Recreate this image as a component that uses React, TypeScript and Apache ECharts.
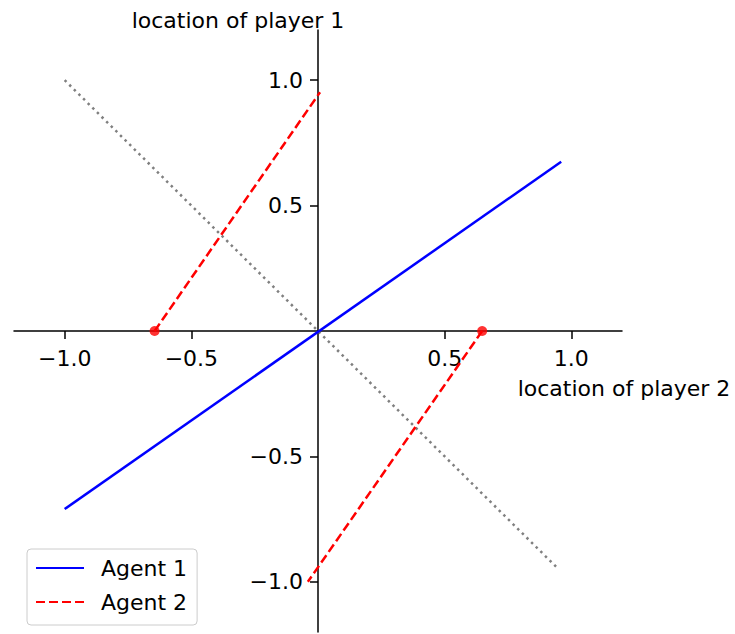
import React, { useEffect, useRef } from "react";
import * as echarts from "echarts";

const agent1X = [-1.0, 0.96];
const agent1Y = [-0.71, 0.675];
const agent2aX = [-0.645, 0.008];
const agent2aY = [0, 0.952];
const agent2bX = [0.648, -0.04];
const agent2bY = [0, -1.0];
const diagX = [-1.0, 0.945];
const diagY = [1.0, -0.945];
const dotsX = [-0.645, 0.648];
const dotsY = [0, 0];
const tickValues = [-1.0, -0.5, 0.5, 1.0];
const axisMin = -1.2;
const axisMax = 1.2;

const zip = (xs: number[], ys: number[]) => xs.map((x, i) => [x, ys[i]]);
const fmt = (v: number) => v.toFixed(1).replace("-", "\u2212");

const W = 735;
const H = 634;
const GRID = { left: 14, right: 113, top: 30, bottom: 2 };
const FS = 22;

export default function App() {
  const ref = useRef<HTMLDivElement>(null);
  useEffect(() => {
    if (!ref.current) return;
    const chart = echarts.init(ref.current, null, { renderer: "svg" });
    const font = "DejaVu Sans";
    const plotW = W - GRID.left - GRID.right;
    const plotH = H - GRID.top - GRID.bottom;
    const frac = (0 - axisMin) / (axisMax - axisMin);
    const xOffset = -plotH * frac; // move x axis up to y=0
    const yOffset = -plotW * frac; // move y axis right to x=0
    const axisCommon = {
      type: "value",
      min: axisMin,
      max: axisMax,
      splitLine: { show: false },
      axisLine: { show: true, onZero: false, lineStyle: { color: "#000", width: 1.5 } },
      axisTick: { show: true, inside: false, length: 8, customValues: tickValues, lineStyle: { color: "#000", width: 1.5 } },
      axisLabel: { show: true, customValues: tickValues, formatter: fmt, color: "#000", fontFamily: font, fontSize: FS },
    };
    chart.setOption({
      animation: false,
      backgroundColor: "#fff",
      grid: { ...GRID, containLabel: false, outerBoundsMode: "none" },
      xAxis: {
        ...axisCommon,
        position: "bottom",
        offset: xOffset,
        axisLabel: { ...axisCommon.axisLabel, margin: 16 },
        name: "location of player 2",
        nameLocation: "end",
        nameGap: 2,
        nameTextStyle: { color: "#000", fontFamily: font, fontSize: FS, align: "center", verticalAlign: "top", padding: [46, 0, 0, 0] },
      },
      yAxis: {
        ...axisCommon,
        position: "left",
        offset: yOffset,
        axisLabel: { ...axisCommon.axisLabel, margin: 15 },
        name: "location of player 1",
        nameLocation: "end",
        nameGap: 10,
        nameTextStyle: { color: "#000", fontFamily: font, fontSize: FS, align: "center", verticalAlign: "middle", padding: [0, 160, 0, 0] },
      },
      legend: {
        data: ["Agent 1", "Agent 2"],
        orient: "vertical",
        left: 27,
        top: 549,
        padding: [8, 10, 12, 8],
        itemWidth: 48,
        itemHeight: 14,
        itemGap: 12,
        borderColor: "#cccccc",
        borderWidth: 1,
        borderRadius: 4,
        itemStyle: { opacity: 0 },
        textStyle: { color: "#000", fontFamily: font, fontSize: FS, lineHeight: 22, padding: [0, 0, 0, 12] },
      },
      series: [
        {
          name: "diag",
          type: "line",
          data: zip(diagX, diagY),
          symbol: "none",
          lineStyle: { color: "#808080", width: 2.5, type: [2.5, 4] },
          silent: true,
        },
        {
          name: "Agent 1",
          type: "line",
          data: zip(agent1X, agent1Y),
          symbol: "none",
          color: "#0000ff",
          lineStyle: { color: "#0000ff", width: 2.5 },
        },
        {
          name: "Agent 2",
          type: "line",
          data: zip(agent2aX, agent2aY),
          symbol: "none",
          color: "#ff0000",
          lineStyle: { color: "#ff0000", width: 2.5, type: [9, 4] },
        },
        {
          name: "Agent 2",
          type: "line",
          data: zip(agent2bX, agent2bY),
          symbol: "none",
          color: "#ff0000",
          lineStyle: { color: "#ff0000", width: 2.5, type: [9, 4] },
        },
        {
          name: "dots",
          type: "scatter",
          data: zip(dotsX, dotsY),
          symbol: "circle",
          symbolSize: 10,
          itemStyle: { color: "#ff0000" },
        },
      ],
    });
    return () => chart.dispose();
  }, []);
  return (
    <div
      ref={ref}
      style={{ position: "fixed", left: 0, top: 0, width: W, height: H }}
    />
  );
}
